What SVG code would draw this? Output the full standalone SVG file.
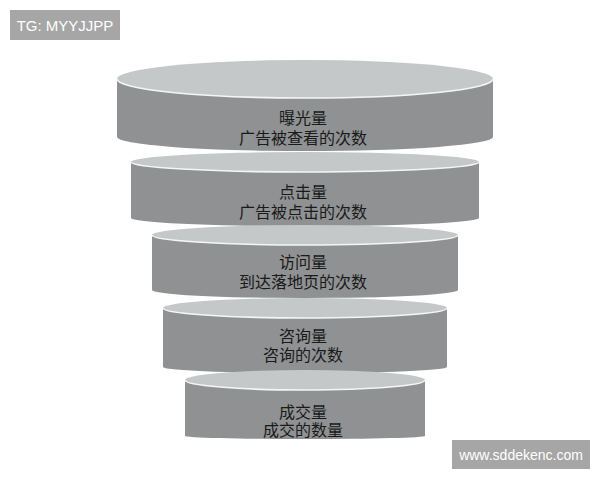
<svg xmlns="http://www.w3.org/2000/svg" width="600" height="480" viewBox="0 0 600 480">
<style>
.side{fill:#8f9192}
.top{fill:#c4c8c9}
.rim{fill:none;stroke:#f4f6f6;stroke-width:1.6}
.lbl{font-family:"Liberation Sans","Noto Sans CJK SC",sans-serif;font-size:16px;fill:#1a1a1a;text-anchor:middle}
.wm{fill:#a6a6a6}
.wmt{font-family:"Liberation Sans","DejaVu Sans",sans-serif;fill:#ffffff;text-anchor:middle}
</style>
<rect width="600" height="480" fill="#ffffff"/>
<g id="wm1"><rect class="wm" x="10" y="10" width="110" height="30"/><text class="wmt" x="65" y="30.5" font-size="15">TG: MYYJJPP</text></g>
<g id="disc1">
<path class="side" d="M117,79 L117,137 A188,14 0 0 0 493,137 L493,79 A188,19 0 0 1 117,79 Z"/>
<ellipse class="top" cx="305" cy="79" rx="188" ry="19"/>
<path class="rim" d="M493,79 A188,19 0 0 1 117,79"/>
<text class="lbl" x="303" y="124">曝光量</text>
<text class="lbl" x="303" y="144">广告被查看的次数</text>
</g>
<g id="disc2">
<path class="side" d="M131,162 L131,218 A174,8 0 0 0 479,218 L479,162 A174,10 0 0 1 131,162 Z"/>
<ellipse class="top" cx="305" cy="162" rx="174" ry="10"/>
<path class="rim" d="M479,162 A174,10 0 0 1 131,162"/>
<text class="lbl" x="303" y="198">点击量</text>
<text class="lbl" x="303" y="218">广告被点击的次数</text>
</g>
<g id="disc3">
<path class="side" d="M152,235 L152,290 A153,8 0 0 0 458,290 L458,235 A153,10 0 0 1 152,235 Z"/>
<ellipse class="top" cx="305" cy="235" rx="153" ry="10"/>
<path class="rim" d="M458,235 A153,10 0 0 1 152,235"/>
<text class="lbl" x="303" y="268">访问量</text>
<text class="lbl" x="303" y="288">到达落地页的次数</text>
</g>
<g id="disc4">
<path class="side" d="M163,308 L163,367 A142,6 0 0 0 447,367 L447,308 A142,10 0 0 1 163,308 Z"/>
<ellipse class="top" cx="305" cy="308" rx="142" ry="10"/>
<path class="rim" d="M447,308 A142,10 0 0 1 163,308"/>
<text class="lbl" x="303" y="342">咨询量</text>
<text class="lbl" x="303" y="361">咨询的次数</text>
</g>
<g id="disc5">
<path class="side" d="M185,380 L185,436 A120,3 0 0 0 425,436 L425,380 A120,10 0 0 1 185,380 Z"/>
<ellipse class="top" cx="305" cy="380" rx="120" ry="10"/>
<path class="rim" d="M425,380 A120,10 0 0 1 185,380"/>
<text class="lbl" x="303" y="418">成交量</text>
<text class="lbl" x="303" y="436">成交的数量</text>
</g>
<g id="wm2"><rect class="wm" x="452" y="440" width="138" height="29"/><text class="wmt" x="521" y="460" font-size="14">www.sddekenc.com</text></g>
<g id="connectors"/>
</svg>
